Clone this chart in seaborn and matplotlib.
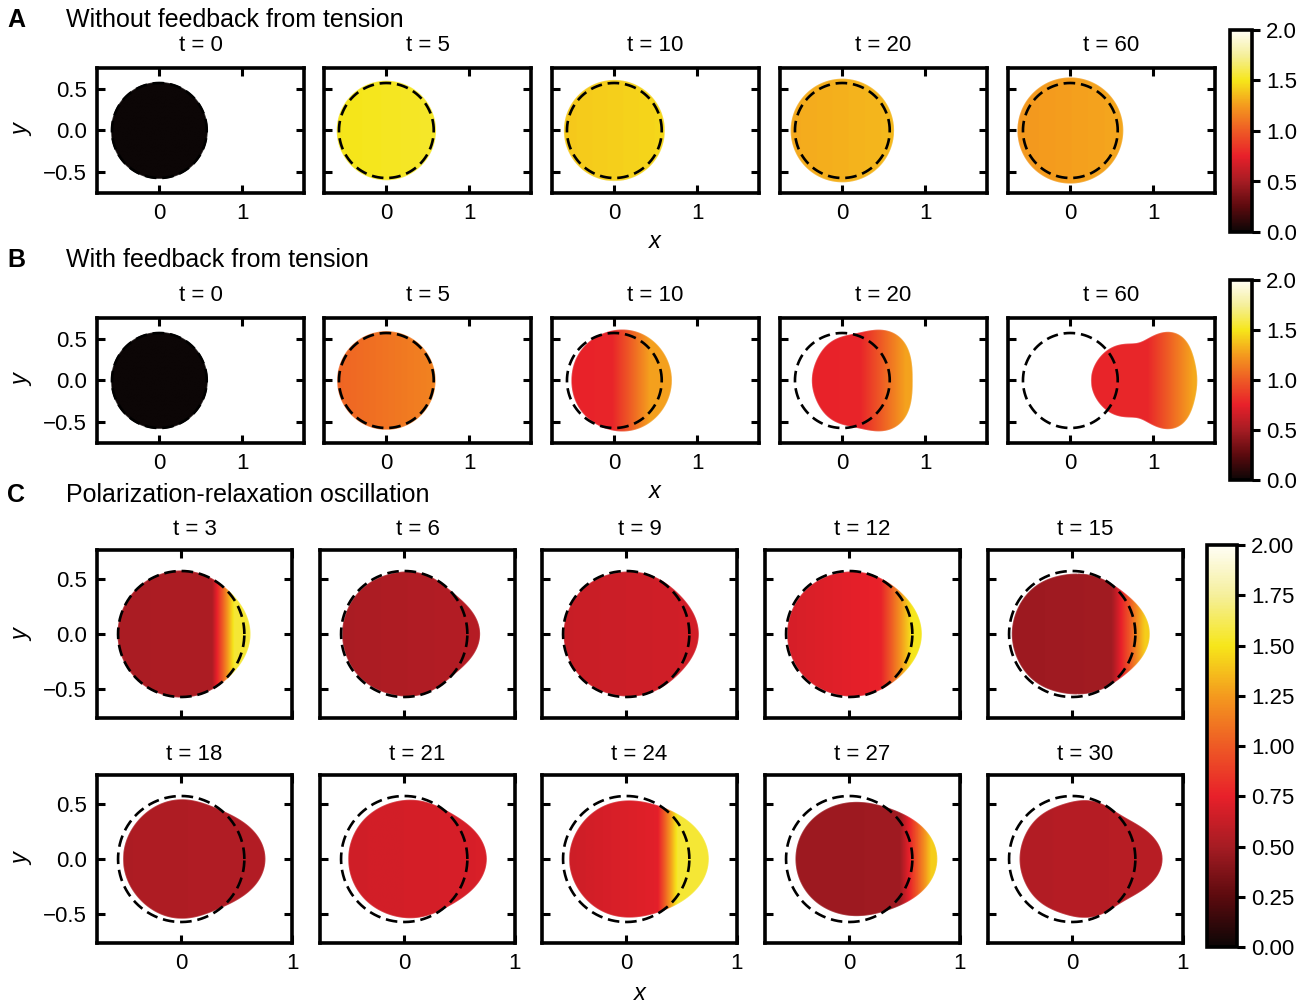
import numpy as np
import matplotlib
matplotlib.use("Agg")
import matplotlib.pyplot as plt
from matplotlib.path import Path
from matplotlib.patches import PathPatch
from matplotlib.collections import LineCollection
from matplotlib.colors import Normalize
from matplotlib.cm import ScalarMappable
import seaborn as sns

sns.set_theme(style="ticks")
plt.rcParams["font.family"] = ["Liberation Sans", "DejaVu Sans"]
plt.rcParams["text.color"] = "black"
plt.rcParams["axes.labelcolor"] = "black"
plt.rcParams["xtick.color"] = "black"
plt.rcParams["ytick.color"] = "black"

# ---------------------------------------------------------------------------
# Data: cell outlines (radius sampled at fixed polar angles around the cell
# centre) and concentration profiles along x (back value, value where the
# front ramp starts, ramp start, ramp width, front value).
# ---------------------------------------------------------------------------
REF_RADIUS = 0.57
SAMPLE_ANGLES_DEG = [0, 30, 60, 90, 120, 150, 180]

a_times = [0, 5, 10, 20, 60]
a_center = [0.0, 0.0, 0.0, 0.0, 0.0]
a_radii = [
    [0.575] * 7,
    [0.59] * 7,
    [0.60] * 7,
    [0.615] * 7,
    [0.63] * 7,
]
a_c_back = [0.0, 1.49, 1.40, 1.30, 1.24]
a_c_mid = [0.0, 1.49, 1.40, 1.30, 1.24]
a_ramp_x = [-0.575, -0.59, -0.60, -0.615, -0.63]
a_ramp_w = [1.15, 1.18, 1.20, 1.23, 1.26]
a_c_front = [0.0, 1.53, 1.45, 1.35, 1.29]

b_times = [0, 5, 10, 20, 60]
b_center = [0.0, 0.0, 0.085, 0.21, 0.90]
b_radii = [
    [0.575] * 7,
    [0.585] * 7,
    [0.60, 0.60, 0.605, 0.605, 0.60, 0.60, 0.595],
    [0.63, 0.68, 0.68, 0.57, 0.57, 0.57, 0.57],
    [0.62, 0.65, 0.66, 0.48, 0.50, 0.60, 0.645],
]
b_c_back = [0.0, 1.04, 0.76, 0.76, 0.77]
b_c_mid = [0.0, 1.04, 0.77, 0.77, 0.78]
b_ramp_x = [-0.575, -0.585, -0.03, 0.22, 0.92]
b_ramp_w = [1.15, 1.17, 0.45, 0.55, 0.55]
b_c_front = [0.0, 1.16, 1.27, 1.28, 1.30]

c_times = [3, 6, 9, 12, 15, 18, 21, 24, 27, 30]
c_center = [0.0, 0.0, 0.0, 0.0, 0.0, 0.02, 0.02, 0.02, 0.02, 0.03]
c_radii = [
    [0.62, 0.59, 0.57, 0.57, 0.57, 0.57, 0.57],
    [0.68, 0.60, 0.565, 0.56, 0.555, 0.555, 0.555],
    [0.65, 0.605, 0.575, 0.56, 0.56, 0.56, 0.56],
    [0.65, 0.61, 0.575, 0.56, 0.555, 0.555, 0.555],
    [0.695, 0.62, 0.565, 0.54, 0.54, 0.54, 0.54],
    [0.735, 0.64, 0.54, 0.535, 0.535, 0.535, 0.54],
    [0.72, 0.63, 0.55, 0.53, 0.52, 0.52, 0.52],
    [0.72, 0.645, 0.55, 0.525, 0.525, 0.525, 0.53],
    [0.77, 0.67, 0.55, 0.51, 0.50, 0.50, 0.50],
    [0.78, 0.63, 0.55, 0.52, 0.50, 0.50, 0.50],
]
c_c_back = [0.52, 0.52, 0.63, 0.68, 0.47, 0.53, 0.66, 0.65, 0.47, 0.55]
c_c_mid = [0.53, 0.52, 0.63, 0.76, 0.49, 0.53, 0.66, 0.73, 0.48, 0.55]
c_ramp_x = [0.28, -0.555, -0.56, 0.28, 0.36, -0.52, -0.50, 0.28, 0.46, -0.47]
c_ramp_w = [0.20, 1.23, 1.21, 0.28, 0.30, 1.27, 1.24, 0.18, 0.28, 1.28]
c_c_front = [1.55, 0.56, 0.67, 1.50, 1.42, 0.55, 0.69, 1.55, 1.42, 0.57]

cbar_ticks_ab = [0.0, 0.5, 1.0, 1.5, 2.0]
cbar_ticks_c = [0.0, 0.25, 0.5, 0.75, 1.0, 1.25, 1.5, 1.75, 2.0]

# black -> dark red -> red -> orange -> yellow -> white
cmap = sns.blend_palette(
    ["#0c0606", "#5c0a0e", "#a61c23", "#e8202a", "#ee5a25",
     "#f49a1e", "#f6e61a", "#f5ef9a", "#fffef6"],
    n_colors=256, as_cmap=True)
norm = Normalize(vmin=0.0, vmax=2.0)

W, H = 1307, 1005
fig = plt.figure(figsize=(W / 100, H / 100), dpi=100)

TICK_FS = 16
TITLE_FS = 16
HEAD_FS = 18


def px_axes(left, top, width, height):
    return fig.add_axes([left / W, 1 - (top + height) / H, width / W, height / H])


def outline(xc, radii, n=721):
    th_s = np.deg2rad(SAMPLE_ANGLES_DEG)
    k = np.arange(len(th_s))
    coef = np.linalg.solve(np.cos(np.outer(th_s, k)), np.asarray(radii, float))
    th = np.linspace(0, 2 * np.pi, n)
    r = np.cos(np.outer(th, k)) @ coef
    return xc + r * np.cos(th), r * np.sin(th)


def profile(x, x_back, cb, cm, x0, w, cf):
    pre = cb + (cm - cb) * np.clip((x - x_back) / max(x0 - x_back, 1e-6), 0, 1)
    ramp = np.clip((x - x0) / w, 0, 1)
    return np.where(x < x0, pre, cm + (cf - cm) * ramp)


def draw_cell(ax, xc, radii, cb, cm, x0, w, cf):
    xs, ys = outline(xc, radii)
    patch = PathPatch(Path(np.column_stack([xs, ys]), closed=True),
                      facecolor="none", edgecolor="none", transform=ax.transData)
    ax.add_patch(patch)
    xb, xf = xs.min(), xs.max()
    gx = np.linspace(xb, xf, 500)
    field = np.tile(profile(gx, xb, cb, cm, x0, w, cf), (2, 1))
    im = ax.imshow(field, extent=(xb, xf, ys.min(), ys.max()), origin="lower",
                   cmap=cmap, norm=norm, aspect="auto", interpolation="bilinear",
                   zorder=1)
    im.set_clip_path(patch)
    # smooth the clipped edge with a thin stroke in the local colour
    pts = np.column_stack([xs, ys]).reshape(-1, 1, 2)
    segs = np.concatenate([pts[:-1], pts[1:]], axis=1)
    xm = 0.5 * (xs[:-1] + xs[1:])
    lc = LineCollection(segs, cmap=cmap, norm=norm, linewidths=0.8, zorder=1.5)
    lc.set_array(profile(xm, xb, cb, cm, x0, w, cf))
    ax.add_collection(lc)


def draw_reference(ax):
    th = np.linspace(0, 2 * np.pi, 400)
    sns.lineplot(x=REF_RADIUS * np.cos(th), y=REF_RADIUS * np.sin(th), sort=False,
                 estimator=None, color="black", linewidth=1.9,
                 linestyle=(0, (4.4, 2.2)), ax=ax, zorder=3)


def style_axes(ax, xlim, ylim, show_x, show_y):
    ax.set_xlim(*xlim)
    ax.set_ylim(*ylim)
    ax.set_xticks([0, 1])
    ax.set_yticks([-0.5, 0.0, 0.5])
    ax.set_yticklabels(["\u22120.5", "0.0", "0.5"])
    ax.tick_params(direction="in", length=6, width=2.2, top=True, right=True,
                   labelsize=TICK_FS, pad=7, colors="black")
    ax.tick_params(labelbottom=show_x, labelleft=show_y)
    for s in ax.spines.values():
        s.set_linewidth(2.6)
        s.set_color("black")
    ax.set_xlabel("")
    ax.set_ylabel("")


def draw_row(lefts, top, width, height, xlim, ylim, times, centers, radii,
             cbk, cmd, rx, rw, cfr, show_x, title_pad):
    for i, t in enumerate(times):
        ax = px_axes(lefts[i], top, width, height)
        draw_cell(ax, centers[i], radii[i], cbk[i], cmd[i], rx[i], rw[i], cfr[i])
        draw_reference(ax)
        style_axes(ax, xlim, ylim, show_x, i == 0)
        ax.set_title(f"t = {t}", fontsize=TITLE_FS, pad=title_pad)


def add_colorbar(left, top, width, height, ticks, fmt):
    cax = px_axes(left, top, width, height)
    cb = fig.colorbar(ScalarMappable(norm=norm, cmap=cmap), cax=cax)
    cb.set_ticks(ticks)
    cb.set_ticklabels([fmt.format(v) for v in ticks])
    cb.outline.set_linewidth(2.6)
    cb.outline.set_edgecolor("black")
    cax.tick_params(direction="out", length=6, width=2.2, labelsize=TICK_FS,
                    pad=4, colors="black")


lefts_ab = [97, 324, 552, 780, 1008]
xlim_ab, ylim_ab = (-0.75, 1.74), (-0.75, 0.75)
draw_row(lefts_ab, 68, 207, 125, xlim_ab, ylim_ab, a_times, a_center, a_radii,
         a_c_back, a_c_mid, a_ramp_x, a_ramp_w, a_c_front, True, 12.5)
draw_row(lefts_ab, 318, 207, 125, xlim_ab, ylim_ab, b_times, b_center, b_radii,
         b_c_back, b_c_mid, b_ramp_x, b_ramp_w, b_c_front, True, 12.5)

lefts_c = [97, 320, 542, 765, 988]
xlim_c, ylim_c = (-0.76, 1.0), (-0.76, 0.76)
draw_row(lefts_c, 550, 195, 168, xlim_c, ylim_c, c_times[:5], c_center[:5],
         c_radii[:5], c_c_back[:5], c_c_mid[:5], c_ramp_x[:5], c_ramp_w[:5],
         c_c_front[:5], False, 10.5)
draw_row(lefts_c, 775, 195, 168, xlim_c, ylim_c, c_times[5:], c_center[5:],
         c_radii[5:], c_c_back[5:], c_c_mid[5:], c_ramp_x[5:], c_ramp_w[5:],
         c_c_front[5:], True, 10.5)

add_colorbar(1230, 30, 22, 202, cbar_ticks_ab, "{:.1f}")
add_colorbar(1230, 280, 22, 200, cbar_ticks_ab, "{:.1f}")
add_colorbar(1207, 545, 30, 402, cbar_ticks_c, "{:.2f}")


def fig_text(x, y, s, **kw):
    fig.text(x / W, 1 - y / H, s, **kw)


for letter, title, y in [("A", "Without feedback from tension", 20),
                         ("B", "With feedback from tension", 260),
                         ("C", "Polarization-relaxation oscillation", 495)]:
    fig_text(7, y, letter, fontsize=HEAD_FS, fontweight="bold", va="center",
             ha="left")
    fig_text(66, y, title, fontsize=HEAD_FS, va="center", ha="left")

for y in [242, 492]:
    fig_text(655, y, "x", fontsize=17, style="italic", va="center", ha="center")
fig_text(640, 993, "x", fontsize=17, style="italic", va="center", ha="center")
for y in [130, 380, 635, 859]:
    fig_text(22, y, "y", fontsize=17, style="italic", va="center", ha="center",
             rotation=90)

fig.savefig("out.png", dpi=100)
